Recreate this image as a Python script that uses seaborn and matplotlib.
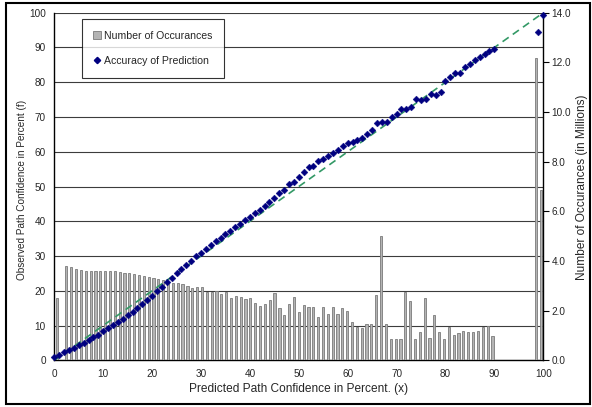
"""Path confidence calibration: observed vs predicted, with bin counts."""
import matplotlib
matplotlib.use("Agg")
import matplotlib.pyplot as plt
import matplotlib.patches as mpatches
from matplotlib.lines import Line2D
import seaborn as sns

# bins of predicted confidence (0..100) and number of occurrences (millions)
bins = list(range(101))
occurrences = [
    2.53, 0.00, 3.81, 3.75, 3.68, 3.63, 3.61, 3.60, 3.60, 3.60,
    3.60, 3.60, 3.58, 3.54, 3.51, 3.50, 3.46, 3.43, 3.40, 3.36,
    3.32, 3.28, 3.23, 3.16, 3.12, 3.11, 3.07, 3.00, 2.93, 2.94,
    2.94, 2.74, 2.76, 2.80, 2.66, 2.74, 2.52, 2.58, 2.55, 2.45,
    2.49, 2.30, 2.17, 2.27, 2.44, 2.72, 2.11, 1.81, 2.27, 2.55,
    1.95, 2.21, 2.16, 2.13, 1.76, 2.13, 1.85, 2.13, 1.85, 2.10,
    1.97, 1.55, 1.36, 1.30, 1.46, 1.46, 2.62, 5.01, 1.46, 0.87,
    0.84, 0.84, 2.76, 2.38, 0.84, 1.16, 2.49, 0.88, 1.81, 1.16,
    0.84, 1.33, 1.01, 1.11, 1.20, 1.13, 1.13, 1.20, 1.33, 1.39,
    0.98, 0.00, 0.00, 0.00, 0.00, 0.00, 0.00, 0.00, 0.00, 12.18,
    6.87,
]

# accuracy of prediction (observed confidence, percent)
acc_x = list(range(91)) + [99, 100]
acc_y = [
    1.0, 1.6, 2.3, 3.0, 3.6, 4.3, 5.0, 5.8, 6.6, 7.4,
    8.3, 9.2, 10.1, 11.0, 12.0, 13.0, 14.0, 15.1, 16.2, 17.3,
    18.6, 19.8, 21.0, 22.4, 23.7, 25.0, 26.2, 27.5, 28.7, 29.9,
    31.0, 32.1, 33.1, 34.2, 35.2, 36.2, 37.3, 38.3, 39.3, 40.3,
    41.3, 42.3, 43.3, 44.4, 45.6, 46.8, 48.0, 49.1, 50.6, 51.2,
    52.8, 54.3, 55.7, 56.0, 57.4, 57.8, 58.9, 59.7, 60.6, 61.7,
    62.4, 62.9, 63.4, 63.9, 65.0, 66.3, 68.2, 68.6, 68.6, 70.1,
    70.8, 72.4, 72.2, 73.0, 75.1, 74.9, 75.1, 76.6, 76.3, 77.2,
    80.5, 81.6, 82.8, 82.8, 84.5, 85.2, 86.4, 87.2, 88.1, 89.1,
    89.5, 94.6, 99.4,
]

# perfect calibration reference
ideal_x = [0, 100]
ideal_y = [0, 100]

sns.set_theme(style="white")
plt.rcParams["font.family"] = ["Liberation Sans", "DejaVu Sans"]

BAR_FACE = "#b4b4b4"
BAR_EDGE = "#7a7a7a"
NAVY = "#000080"
GREEN = "#339966"

fig = plt.figure(figsize=(5.92, 4.07), dpi=100)
rect = [0.0917, 0.1147, 0.826, 0.854]

# back axes: grid, left axis, x axis
ax = fig.add_axes(rect)
ax.set_xlim(0, 100)
ax.set_ylim(0, 100)
ax.set_xticks(range(0, 101, 10))
ax.set_yticks(range(0, 101, 10))
ax.yaxis.grid(True, color="#3c3c3c", lw=0.8)
ax.xaxis.grid(False)
for s in ["top", "right"]:
    ax.spines[s].set_visible(False)
for s in ["left", "bottom"]:
    ax.spines[s].set_color("black")
    ax.spines[s].set_linewidth(1.0)
ax.tick_params(axis="both", direction="out", length=4, width=0.8, color="black",
               labelsize=7.2, pad=2)
ax.set_xlabel("Predicted Path Confidence in Percent. (x)", fontsize=8.6)
ax.xaxis.set_label_coords(0.5, -0.066)
ax.set_ylabel("Observed Path Confidence in Percent (f)", fontsize=7.2)
ax.yaxis.set_label_coords(-0.056, 0.49)
ax.set_zorder(0)

# middle axes: occurrence bars on a category scale, right axis
ax_bar = fig.add_axes(rect)
sns.barplot(x=bins, y=occurrences, order=bins, ax=ax_bar, color=BAR_FACE,
            saturation=1, width=0.45, edgecolor=BAR_EDGE, linewidth=0.6)
ax_bar.set_xlim(-0.5, 100.5)
ax_bar.set_ylim(0, 14)
ax_bar.patch.set_visible(False)
ax_bar.set_xticks([])
ax_bar.set_xlabel("")
ax_bar.yaxis.tick_right()
ax_bar.yaxis.set_label_position("right")
ax_bar.set_yticks(range(0, 15, 2))
ax_bar.set_yticklabels([f"{v:.1f}" for v in range(0, 15, 2)])
ax_bar.tick_params(axis="y", direction="out", length=4, width=0.8, color="black",
                   labelsize=7.2, pad=2, right=True, left=False)
for s in ["top", "left", "bottom"]:
    ax_bar.spines[s].set_visible(False)
ax_bar.spines["right"].set_color("black")
ax_bar.spines["right"].set_linewidth(1.0)
ax_bar.set_ylabel("Number of Occurances (in Millions)", fontsize=8.6)
ax_bar.yaxis.set_label_coords(1.066, 0.497)
ax_bar.set_zorder(1)

# front axes: reference line and accuracy points
ax_top = fig.add_axes(rect)
ax_top.set_xlim(0, 100)
ax_top.set_ylim(0, 100)
ax_top.axis("off")
sns.lineplot(x=ideal_x, y=ideal_y, ax=ax_top, color=GREEN, lw=1.2,
             dashes=False, zorder=2)
ax_top.lines[-1].set_dashes((4.5, 3))
sns.scatterplot(x=acc_x, y=acc_y, ax=ax_top, marker="D", s=12, color=NAVY,
                edgecolor=NAVY, linewidth=0.3, zorder=3, clip_on=False)
ax_top.set_zorder(2)

handles = [
    mpatches.Patch(facecolor=BAR_FACE, edgecolor=BAR_EDGE, lw=0.6),
    Line2D([], [], ls="none", marker="D", markersize=3.2, color=NAVY),
]
leg = ax_top.legend(handles, ["Number of Occurances", "Accuracy of Prediction"],
                    loc="upper left", bbox_to_anchor=(0.056, 0.982),
                    fontsize=7.6, frameon=True, fancybox=False, edgecolor="black",
                    borderpad=1.1, labelspacing=1.45, handlelength=0.75,
                    handleheight=0.75, handletextpad=0.3, borderaxespad=0)
leg.get_frame().set_linewidth(0.8)

# outer chart border
fig.patches.append(mpatches.Rectangle((0.0101, 0.0074), 0.9865, 0.9845,
                                      transform=fig.transFigure, fill=False,
                                      ec="black", lw=1.5))

fig.savefig("out.png", dpi=100)
plt.close(fig)
